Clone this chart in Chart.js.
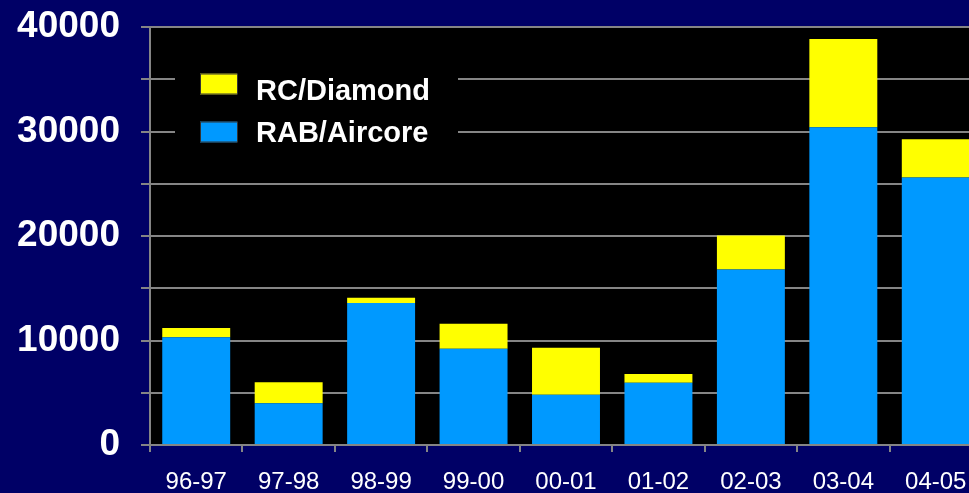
<!DOCTYPE html>
<html><head><meta charset="utf-8">
<script src="https://cdn.jsdelivr.net/npm/chart.js@4/dist/chart.umd.min.js"></script>
<style>
html,body{margin:0;padding:0;background:#000066;overflow:hidden;width:969px;height:493px}
canvas{display:block}
</style></head>
<body><canvas id="c" width="982" height="493"></canvas>
<script>
const categories = ['96-97','97-98','98-99','99-00','00-01','01-02','02-03','03-04','04-05'];
const rabAircore = [10300, 4000, 13600, 9200, 4800, 5950, 16800, 30400, 25600];
const rcDiamond  = [900, 2000, 500, 2400, 4500, 850, 3250, 8450, 3650];
const seriesNames = ['RAB/Aircore', 'RC/Diamond'];
const yMin = 0, yMax = 40000, yStep = 5000, yLabelStep = 10000;

const FONT = '"Liberation Sans", Arial, sans-serif';
const GRID = '#858585';

const bgPlugin = {
  id: 'bg',
  beforeDraw(chart) {
    const {ctx, chartArea: a} = chart;
    ctx.save();
    ctx.fillStyle = '#000000';
    ctx.fillRect(a.left, a.top, a.right - a.left, a.bottom - a.top);
    ctx.restore();
  }
};

const legendPlugin = {
  id: 'insideLegend',
  afterDraw(chart) {
    const ctx = chart.ctx;
    ctx.save();
    ctx.fillStyle = '#000000';
    ctx.fillRect(175, 55, 283, 105);
    const ds = chart.data.datasets.slice().reverse();
    const boxY = [73.5, 121.5];
    const textY = [92, 134];
    ds.forEach((d, i) => {
      ctx.fillStyle = d.backgroundColor;
      ctx.fillRect(200, boxY[i], 37, 21);
      ctx.strokeStyle = '#333333';
      ctx.lineWidth = 1;
      ctx.strokeRect(200.5, boxY[i] + 0.5, 37, 20);
      ctx.fillStyle = '#ffffff';
      ctx.font = 'bold 29px ' + FONT;
      ctx.textBaseline = 'middle';
      ctx.textAlign = 'left';
      ctx.fillText(d.label, 256, textY[i]);
    });
    ctx.restore();
  }
};

new Chart(document.getElementById('c'), {
  type: 'bar',
  data: {
    labels: categories,
    datasets: [
      { label: seriesNames[0], data: rabAircore, backgroundColor: '#0099FF', borderWidth: 0 },
      { label: seriesNames[1], data: rcDiamond, backgroundColor: '#FFFF00', borderWidth: 0 }
    ]
  },
  options: {
    responsive: false,
    animation: false,
    devicePixelRatio: 1,
    layout: { padding: { top: 27, right: 0, left: 0, bottom: 0 } },
    plugins: { legend: { display: false }, tooltip: { enabled: false } },
    datasets: { bar: { barPercentage: 0.735, categoryPercentage: 1.0 } },
    scales: {
      x: {
        stacked: true,
        offset: true,
        afterFit(s) { s.height = 48; s.paddingLeft = 0; s.paddingRight = 0; },
        grid: { display: true, drawOnChartArea: false, drawTicks: true, tickLength: 7, color: GRID, lineWidth: 2, offset: true },
        border: { display: true, color: GRID, width: 2 },
        ticks: { color: '#ffffff', font: { family: FONT, size: 24 }, padding: 16, maxRotation: 0, autoSkip: false }
      },
      y: {
        stacked: true,
        min: yMin, max: yMax,
        afterFit(s) { s.width = 150; s.paddingTop = 0; s.paddingBottom = 0; },
        grid: { display: true, drawOnChartArea: true, drawTicks: true, tickLength: 9, color: GRID, lineWidth: 2 },
        border: { display: true, color: GRID, width: 2 },
        ticks: {
          stepSize: yStep,
          color: '#ffffff',
          font: { family: FONT, size: 37, weight: 'bold' },
          padding: 21,
          callback: (v) => (v % yLabelStep === 0 ? String(v) : '')
        }
      }
    }
  },
  plugins: [bgPlugin, legendPlugin]
});
</script>
</body></html>
